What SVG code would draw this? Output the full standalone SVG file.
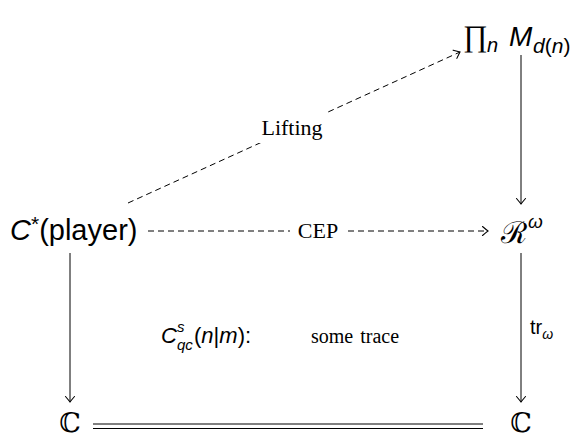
<svg xmlns="http://www.w3.org/2000/svg" width="581" height="440" viewBox="0 0 581 440">
<style>
.m{font-family:"Liberation Sans","DejaVu Sans",sans-serif;fill:#000}
.i{font-style:italic}
.s{font-family:"Liberation Serif","DejaVu Serif",serif;fill:#000}
.bb{font-family:"DejaVu Serif",serif;fill:#000}
.ln{stroke:#000;stroke-width:1;fill:none}
.d{stroke-dasharray:6,4}
.lbl{fill:#fff;stroke:none}
</style>
<defs>
<marker id="ah" markerWidth="12" markerHeight="12" refX="10" refY="6" orient="auto" markerUnits="userSpaceOnUse">
<path d="M4.5,1.5 Q8,4.5 10,6 Q8,7.5 4.5,10.5" fill="none" stroke="#000" stroke-width="1.1" stroke-linecap="round"/>
</marker>
</defs>
<rect width="581" height="440" fill="#fff"/>
<g id="connectors">
<line class="ln d" x1="128" y1="203" x2="460" y2="52" marker-end="url(#ah)"/>
<rect class="lbl" x="252" y="113" width="80" height="30"/>
<text class="s" x="292" y="135" font-size="22" text-anchor="middle">Lifting</text>
<line class="ln d" x1="148" y1="231" x2="488" y2="231" marker-end="url(#ah)"/>
<rect class="lbl" x="290" y="218" width="56" height="26"/>
<text class="s" x="318" y="238" font-size="22" text-anchor="middle">CEP</text>
<line class="ln" x1="521" y1="55" x2="521" y2="204" marker-end="url(#ah)"/>
<line class="ln" x1="521" y1="253" x2="521" y2="402" marker-end="url(#ah)"/>
<text class="m" x="530" y="334" font-size="20">tr<tspan class="i" font-size="14" dy="5">ω</tspan></text>
<line class="ln" x1="70" y1="253" x2="70" y2="402" marker-end="url(#ah)"/>
<line class="ln" x1="93" y1="424" x2="483" y2="424"/>
<line class="ln" x1="93" y1="428.5" x2="483" y2="428.5"/>
</g>
<g id="node-prod">
<text class="s" x="463" y="46" font-size="30">∏</text>
<text class="m i" x="487" y="52" font-size="20">n</text>
<text class="m i" x="509" y="46" font-size="28">M</text>
<text class="m" x="533" y="53" font-size="21"><tspan class="i">d</tspan>(<tspan class="i">n</tspan>)</text>
</g>
<g id="node-cstar">
<text class="m" x="10" y="240" font-size="29"><tspan class="i">C</tspan><tspan font-size="21" dy="-9">*</tspan><tspan dy="9">(player)</tspan></text>
</g>
<g id="node-R">
<text class="bb" x="501" y="243" font-size="30">ℛ</text>
<text class="m i" x="528" y="228" font-size="19">ω</text>
</g>
<g id="node-C-left">
<text class="bb" x="70" y="432" font-size="27" text-anchor="middle">ℂ</text>
</g>
<g id="node-C-right">
<text class="bb" x="521" y="432" font-size="27" text-anchor="middle">ℂ</text>
</g>
<g id="label-center">
<text class="m i" x="161" y="343" font-size="22">C</text>
<text class="m i" x="177" y="332" font-size="15">s</text>
<text class="m i" x="177" y="350" font-size="15">qc</text>
<text class="m" x="194" y="343" font-size="22">(<tspan class="i">n</tspan>|<tspan class="i">m</tspan>):</text>
<text class="s" x="311" y="343" font-size="20" word-spacing="2">some trace</text>
</g>
</svg>
